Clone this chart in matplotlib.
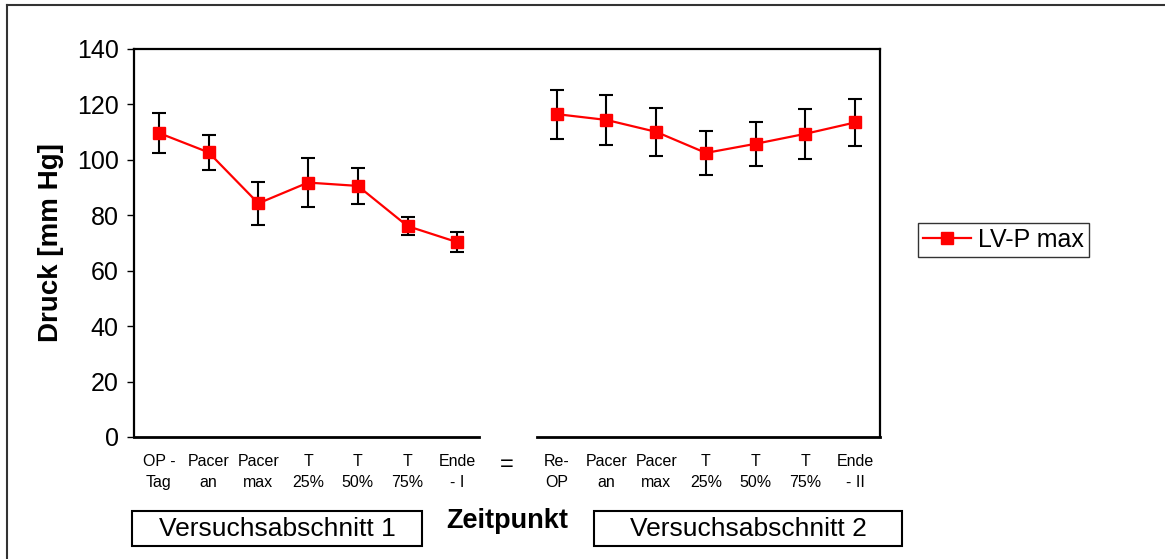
import numpy as np
import matplotlib
matplotlib.use("Agg")
from matplotlib import pyplot as plt
from matplotlib.lines import Line2D
from matplotlib.patches import Rectangle

plt.rcParams['font.family'] = ['Liberation Sans', 'DejaVu Sans']

# Zeitpunkte (Kategorien), Position 7 ist die Achsenunterbrechung "="
kategorien = ["OP -\nTag", "Pacer\nan", "Pacer\nmax", "T\n25%", "T\n50%", "T\n75%", "Ende\n- I",
              "=",
              "Re-\nOP", "Pacer\nan", "Pacer\nmax", "T\n25%", "T\n50%", "T\n75%", "Ende\n- II"]

# Versuchsabschnitt 1
mw_1 = [109.7, 102.7, 84.3, 91.8, 90.6, 76.1, 70.3]
sd_1 = [7.3, 6.3, 7.8, 8.8, 6.6, 3.2, 3.6]
# Versuchsabschnitt 2
mw_2 = [116.5, 114.4, 110.1, 102.5, 105.8, 109.4, 113.5]
sd_2 = [8.8, 8.9, 8.7, 8.0, 7.9, 9.0, 8.4]

x_1 = np.arange(0, 7)
x_2 = np.arange(8, 15)

fig = plt.figure(figsize=(11.65, 5.59), dpi=100)
ax = fig.add_axes([134 / 1165, 1 - 437 / 559, (880 - 134) / 1165, (437 - 49) / 559])

for x, mw, sd in [(x_1, mw_1, sd_1), (x_2, mw_2, sd_2)]:
    ax.errorbar(x, mw, yerr=sd, fmt='none', ecolor='black', elinewidth=1.5,
                capsize=5, capthick=1.5, zorder=2)
    ax.plot(x, mw, color='#ff0000', lw=1.6, marker='s', markersize=9,
            markeredgecolor='#ff0000', zorder=3)

ax.set_xlim(-0.5, 14.5)
ax.set_ylim(0, 140)
ax.set_yticks(np.arange(0, 141, 20))
ax.set_xticks(np.arange(15))
ax.set_xticklabels(kategorien, fontsize=11.5, linespacing=1.55)
ax.get_xticklabels()[7].set_fontsize(17)
ax.tick_params(axis='x', length=0, pad=12)
ax.tick_params(axis='y', direction='out', length=5, width=1, labelsize=18, pad=6)

# untere Achse mit Unterbrechung
ax.spines['bottom'].set_visible(False)
for sp in ['left', 'top', 'right']:
    ax.spines[sp].set_linewidth(1.6)
for x0, x1 in [(0, (479 - 134) / 746), ((537 - 134) / 746, 1)]:
    ax.add_line(Line2D([x0, x1], [0, 0], transform=ax.transAxes, color='black',
                       lw=2, clip_on=False))

ax.set_ylabel("Druck [mm Hg]", fontsize=20, fontweight='bold')
ax.yaxis.set_label_coords(-0.094, 0.5)

# Legende
leg = fig.legend([Line2D([], [], color='#ff0000', lw=1.6, marker='s', markersize=9)],
                 ["LV-P max"], loc='center left', bbox_to_anchor=(918 / 1165, 1 - 240 / 559),
                 fontsize=18, frameon=True, fancybox=False, handlelength=1.9,
                 handletextpad=0.3, borderpad=0.2, borderaxespad=0)
leg.get_frame().set_edgecolor('black')
leg.get_frame().set_linewidth(1)

# Kästen unter der Achse
for (xa, xb), txt in [((132, 422), "Versuchsabschnitt 1"), ((594, 902), "Versuchsabschnitt 2")]:
    fig.add_artist(Rectangle((xa / 1165, 1 - 546 / 559), (xb - xa) / 1165, 35 / 559,
                             transform=fig.transFigure, fill=False, edgecolor='black', lw=1.5))
    fig.text((xa + xb) / 2 / 1165, 1 - 529 / 559, txt, fontsize=19, ha='center', va='center')

fig.text(507 / 1165, 1 - 521 / 559, "Zeitpunkt", fontsize=19.5, fontweight='bold',
         ha='center', va='center')

# Rahmen des Diagrammbereichs
fig.add_artist(Line2D([7 / 1165, 7 / 1165], [0, 1 - 5 / 559], transform=fig.transFigure,
                      color='#333333', lw=1.5))
fig.add_artist(Line2D([7 / 1165, 1], [1 - 5 / 559, 1 - 5 / 559], transform=fig.transFigure,
                      color='#333333', lw=1.5))

fig.savefig("out.png", dpi=100, facecolor='white')
